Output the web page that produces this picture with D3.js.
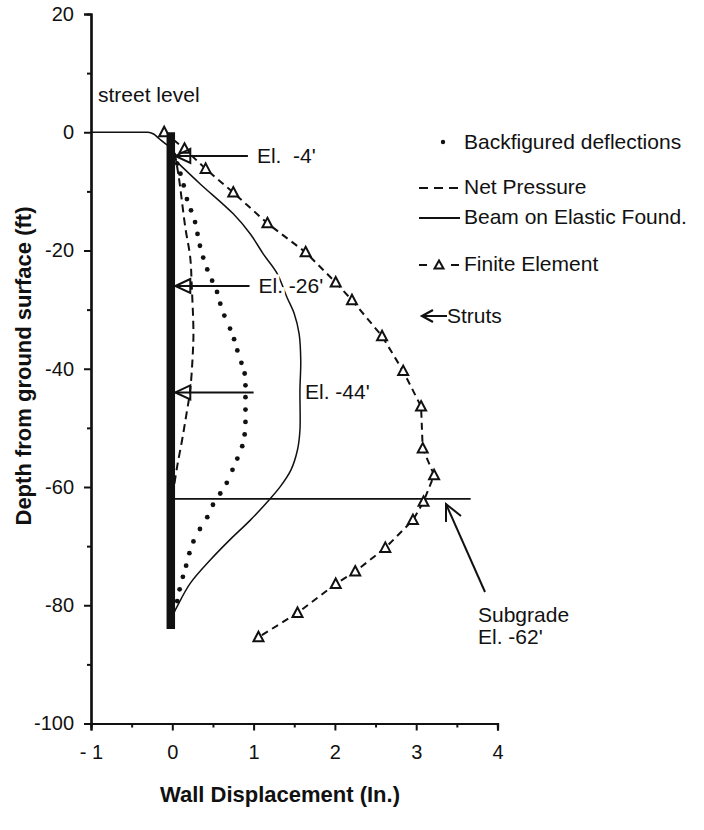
<!DOCTYPE html>
<html>
<head>
<meta charset="utf-8">
<script src="https://cdn.jsdelivr.net/npm/d3@7"></script>
<style>
  body { margin: 0; background: #fff; }
  text { font-family: "Liberation Sans", Arial, Helvetica, sans-serif; fill: #111; }
</style>
</head>
<body>
<div id="chart"></div>
<script>
// tick values
var xTicks = [-1, 0, 1, 2, 3, 4];
var xMinor = [-0.5, 0.5, 1.5, 2.5, 3.5];
var yTicks = [20, 0, -20, -40, -60, -80, -100];
var yMinor = [10, -10, -30, -50, -70, -90];

// [displacement (in.), depth (ft)]
var finiteElement = [[-0.1, 0], [0.15, -2.8], [0.41, -6.2], [0.75, -10.2], [1.17, -15.4], [1.64, -20.3],
  [2.01, -25.4], [2.21, -28.4], [2.58, -34.5], [2.84, -40.4], [3.06, -46.4], [3.08, -53.5],
  [3.22, -58.0], [3.09, -62.5], [2.96, -65.6], [2.62, -70.3], [2.25, -74.3], [2.01, -76.4],
  [1.54, -81.3], [1.06, -85.4]];

var netPressure = [[0.03, -3.5], [0.08, -7.6], [0.16, -16.1], [0.22, -21.1], [0.24, -26.2], [0.26, -34],
  [0.25, -38], [0.22, -43.6], [0.17, -48], [0.12, -52.1], [0.06, -56.5], [0.02, -60]];

var beamElastic = [[0.04, -4.8], [0.34, -8.7], [0.75, -13.8], [0.96, -17.2], [1.12, -20.6], [1.29, -23.9],
  [1.41, -27.9], [1.50, -30.7], [1.56, -34.1], [1.58, -38.6], [1.57, -43.6], [1.57, -50.4],
  [1.54, -53.7], [1.46, -57.1], [1.33, -59.9], [1.19, -62.2], [0.96, -65.6], [0.71, -68.9],
  [0.47, -72.3], [0.22, -76.3], [0.06, -80.2], [0.02, -81.3]];

var backfigured = [[0.06, -5.3], [0.10, -7], [0.14, -9], [0.18, -11.3], [0.23, -13.2], [0.28, -15.2],
  [0.31, -17.2], [0.34, -19.2], [0.38, -21.2], [0.43, -23.2], [0.49, -25.1], [0.55, -27],
  [0.59, -29], [0.64, -31], [0.71, -33.2], [0.76, -35], [0.80, -36.9], [0.85, -39], [0.89, -40.8],
  [0.90, -42.8], [0.90, -44.8], [0.90, -46.9], [0.90, -49], [0.89, -51.1], [0.86, -53.1],
  [0.80, -55.2], [0.74, -57.1], [0.67, -59.3], [0.59, -61.1], [0.50, -63], [0.43, -65.1],
  [0.34, -67.1], [0.26, -69.2], [0.21, -71.2], [0.17, -73.3], [0.13, -75.2], [0.09, -77.3], [0.06, -79.3]];

var groundLine = [[-1, 0], [-0.3, 0], [-0.23, -0.3], [-0.16, -1.1], [-0.09, -1.9], [-0.03, -2.5]];

var wallTop = 0, wallBottom = -84;
var strutDepths = [-4, -26, -44];
var strutEnds = [0.93, 0.95, 1.0];
var strutLabels = ["El.  -4'", "El. -26'", ""];
var subgradeDepth = -62, subgradeEnd = 3.67;

var legendLabels = ["Backfigured deflections", "Net Pressure", "Beam on Elastic Found.", "Finite Element", "Struts"];

var width = 704, height = 830;

var svg = d3.select("#chart").append("svg")
  .attr("width", width)
  .attr("height", height);

var x = d3.scaleLinear().domain([-1, 4]).range([91, 497.5]);
var y = d3.scaleLinear().domain([20, -100]).range([14, 723.5]);

var line = d3.line().x(d => x(d[0])).y(d => y(d[1]));
var smooth = d3.line().x(d => x(d[0])).y(d => y(d[1])).curve(d3.curveCatmullRom);

// axes
svg.append("g")
  .attr("transform", "translate(0," + y(-100) + ")")
  .call(d3.axisBottom(x).tickValues(xTicks).tickSize(7).tickPadding(14)
    .tickFormat(d => d < 0 ? "- " + Math.abs(d) : String(d)));
svg.append("g")
  .attr("transform", "translate(0," + y(-100) + ")")
  .call(d3.axisBottom(x).tickValues(xMinor).tickSize(4).tickFormat(""));

svg.append("g")
  .attr("transform", "translate(" + x(-1) + ",0)")
  .call(d3.axisLeft(y).tickValues(yTicks).tickSize(7).tickPadding(10)
    .tickFormat(d => String(d)));
svg.append("g")
  .attr("transform", "translate(" + x(-1) + ",0)")
  .call(d3.axisLeft(y).tickValues(yMinor).tickSize(4).tickFormat(""));

svg.selectAll(".domain").attr("stroke", "#111").attr("stroke-width", 2.2);
svg.selectAll(".tick line").attr("stroke", "#111").attr("stroke-width", 2);
svg.selectAll(".tick text").style("font-size", "20px").attr("fill", "#111");

// axis titles
svg.append("text")
  .attr("x", 280).attr("y", 802)
  .attr("text-anchor", "middle")
  .style("font-size", "22px").style("font-weight", "bold")
  .text("Wall Displacement (In.)");

svg.append("text")
  .attr("transform", "translate(31,366) rotate(-90)")
  .attr("text-anchor", "middle")
  .style("font-size", "22px").style("font-weight", "bold")
  .text("Depth from ground surface (ft)");

// ground surface
svg.append("path")
  .attr("d", line.curve(d3.curveMonotoneX)(groundLine))
  .attr("fill", "none").attr("stroke", "#111").attr("stroke-width", 1.6);
line.curve(d3.curveLinear);

svg.append("text")
  .attr("x", 98).attr("y", 102)
  .style("font-size", "21px")
  .text("street level");

// subgrade line
svg.append("line")
  .attr("x1", x(0)).attr("x2", x(subgradeEnd))
  .attr("y1", y(subgradeDepth)).attr("y2", y(subgradeDepth))
  .attr("stroke", "#111").attr("stroke-width", 1.8);

// net pressure
svg.append("path")
  .attr("d", smooth(netPressure))
  .attr("fill", "none").attr("stroke", "#111").attr("stroke-width", 2)
  .attr("stroke-dasharray", "8,5");

// beam on elastic foundation
svg.append("path")
  .attr("d", smooth(beamElastic))
  .attr("fill", "none").attr("stroke", "#111").attr("stroke-width", 1.5);

// backfigured deflections
svg.selectAll(".dot")
  .data(backfigured)
  .enter().append("circle")
  .attr("class", "dot")
  .attr("cx", d => x(d[0]))
  .attr("cy", d => y(d[1]))
  .attr("r", 2.4)
  .attr("fill", "#111");

// finite element
svg.append("path")
  .attr("d", line(finiteElement))
  .attr("fill", "none").attr("stroke", "#111").attr("stroke-width", 2)
  .attr("stroke-dasharray", "7,5");

var tri = "M0,-5.5L5,4L-5,4Z";
svg.selectAll(".tri")
  .data(finiteElement)
  .enter().append("path")
  .attr("class", "tri")
  .attr("transform", d => "translate(" + x(d[0]) + "," + y(d[1]) + ")")
  .attr("d", tri)
  .attr("fill", "#fff").attr("stroke", "#111").attr("stroke-width", 2);

// wall
svg.append("line")
  .attr("x1", x(0) - 1.5).attr("x2", x(0) - 1.5)
  .attr("y1", y(wallTop)).attr("y2", y(wallBottom))
  .attr("stroke", "#111").attr("stroke-width", 8.5);

// struts
var tip = x(0) + 3;
strutDepths.forEach(function(dep, i) {
  var yy = y(dep);
  svg.append("line")
    .attr("x1", tip).attr("x2", x(strutEnds[i]))
    .attr("y1", yy).attr("y2", yy)
    .attr("stroke", "#111").attr("stroke-width", 2);
  svg.append("path")
    .attr("d", "M" + (tip + 15) + "," + (yy - 7) + "L" + tip + "," + yy + "L" + (tip + 15) + "," + (yy + 7) + "Z")
    .attr("fill", "none").attr("stroke", "#111").attr("stroke-width", 2);
  if (strutLabels[i]) {
    svg.append("text")
      .attr("x", x(strutEnds[i]) + 9).attr("y", yy + 7.5)
      .style("font-size", "21px")
      .attr("stroke", "#fff").attr("stroke-width", 7).attr("paint-order", "stroke")
      .style("white-space", "pre")
      .text(strutLabels[i]);
  }
});

svg.append("text")
  .attr("x", 305).attr("y", 399)
  .style("font-size", "21px")
  .text("El. -44'");

// subgrade annotation
svg.append("line")
  .attr("x1", 485).attr("y1", 592).attr("x2", 446).attr("y2", 504)
  .attr("stroke", "#111").attr("stroke-width", 2);
svg.append("path")
  .attr("d", "M446,522L446,504L461,516")
  .attr("fill", "none").attr("stroke", "#111").attr("stroke-width", 2);
svg.append("text")
  .attr("x", 478).attr("y", 622)
  .style("font-size", "21px")
  .text("Subgrade");
svg.append("text")
  .attr("x", 478).attr("y", 644)
  .style("font-size", "21px")
  .text("El. -62'");

// legend
var lg = svg.append("g");
var lx = 464;
var ly = [149, 194, 224, 271, 323];
lg.append("circle").attr("cx", 443).attr("cy", 142).attr("r", 2.2).attr("fill", "#111");
lg.append("line").attr("x1", 419).attr("x2", 459).attr("y1", 188).attr("y2", 188)
  .attr("stroke", "#111").attr("stroke-width", 2).attr("stroke-dasharray", "9,6");
lg.append("line").attr("x1", 419).attr("x2", 460).attr("y1", 218).attr("y2", 218)
  .attr("stroke", "#111").attr("stroke-width", 2);
lg.append("line").attr("x1", 419).attr("x2", 459).attr("y1", 265).attr("y2", 265)
  .attr("stroke", "#111").attr("stroke-width", 2).attr("stroke-dasharray", "8,24,8");
lg.append("path").attr("transform", "translate(439,265)").attr("d", "M0,-4.5L4.5,3.5L-4.5,3.5Z")
  .attr("fill", "#fff").attr("stroke", "#111").attr("stroke-width", 2);
lg.append("line").attr("x1", 423).attr("x2", 447).attr("y1", 316).attr("y2", 316)
  .attr("stroke", "#111").attr("stroke-width", 2);
lg.append("path").attr("d", "M433,310L422,316L433,322")
  .attr("fill", "none").attr("stroke", "#111").attr("stroke-width", 2.2);

lg.selectAll(".lt")
  .data(legendLabels)
  .enter().append("text")
  .attr("class", "lt")
  .attr("x", (d, i) => i === 4 ? 447 : lx)
  .attr("y", (d, i) => ly[i])
  .style("font-size", "21px")
  .text(d => d);
</script>
</body>
</html>
